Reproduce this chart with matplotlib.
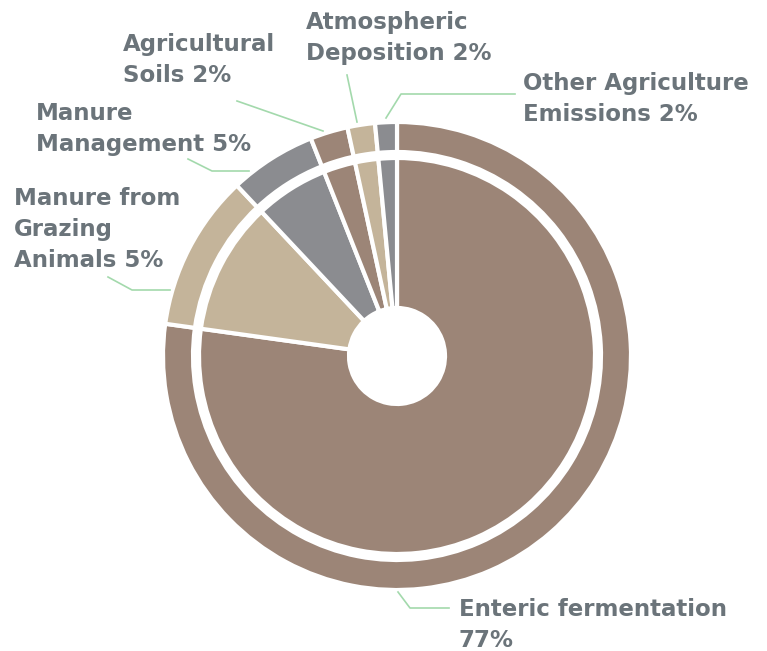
import matplotlib.pyplot as plt

W, H = 767, 651

labels = [
    "Enteric fermentation\n77%",
    "Manure from\nGrazing\nAnimals 5%",
    "Manure\nManagement 5%",
    "Agricultural\nSoils 2%",
    "Atmospheric\nDeposition 2%",
    "Other Agriculture\nEmissions 2%",
]
# slice sizes
values = [77.2, 10.8, 6.0, 2.6, 1.9, 1.5]
colors = ["#9c8577", "#c4b49a", "#8b8c90", "#9c8577", "#c4b49a", "#8b8c90"]

# label text anchor (left, top) in pixels
label_pos = [(459, 598), (14, 187), (36, 102), (123, 33), (306, 11), (523, 72)]
# leader lines in pixels
leaders = [
    [(398, 592), (410, 608), (449, 608)],
    [(108, 277), (132, 290), (170, 290)],
    [(188, 159), (212, 171), (249, 171)],
    [(237, 101), (323, 131)],
    [(347, 75), (357, 122)],
    [(386, 118), (401, 94), (515, 94)],
]

TEXT_COLOR = "#6b747a"
LINE_COLOR = "#a3d9ac"

cx, cy = 397, H - 356

fig = plt.figure(figsize=(W / 100, H / 100), dpi=100)
ax = fig.add_axes([0, 0, 1, 1])
ax.set_xlim(0, W)
ax.set_ylim(0, H)
ax.set_aspect("equal")
ax.axis("off")

# outer thin ring
ax.pie(
    values,
    colors=colors,
    startangle=90,
    counterclock=False,
    center=(cx, cy),
    radius=234,
    wedgeprops=dict(width=30, edgecolor="white", linewidth=3),
)
# inner donut
ax.pie(
    values,
    colors=colors,
    startangle=90,
    counterclock=False,
    center=(cx, cy),
    radius=198,
    wedgeprops=dict(width=150, edgecolor="white", linewidth=3),
)
ax.set_xlim(0, W)
ax.set_ylim(0, H)

for pts in leaders:
    xs = [p[0] for p in pts]
    ys = [H - p[1] for p in pts]
    ax.plot(xs, ys, color=LINE_COLOR, lw=1.2)

for text, (x, y) in zip(labels, label_pos):
    ax.text(x, H - y, text, ha="left", va="top", fontsize=16.5,
            fontweight="bold", color=TEXT_COLOR, family="DejaVu Sans",
            linespacing=1.45)

plt.savefig("out.png", dpi=100)
